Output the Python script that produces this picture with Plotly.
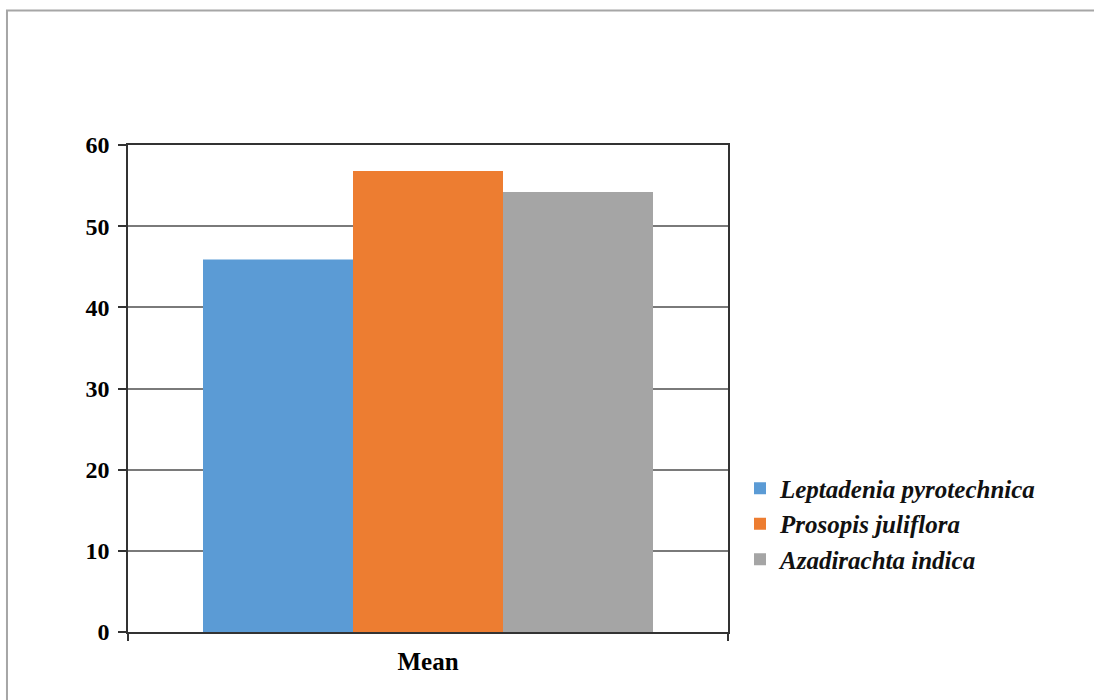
import plotly.graph_objects as go

# Mean values per species
categories = ["Mean"]
species = ["Leptadenia pyrotechnica", "Prosopis juliflora", "Azadirachta indica"]
leptadenia = [45.9]
prosopis = [56.8]
azadirachta = [54.2]
colors = ["#5b9bd5", "#ed7d31", "#a5a5a5"]
y_ticks = [0, 10, 20, 30, 40, 50, 60]

serif = "Liberation Serif"

fig = go.Figure()
for name, vals, col in zip(species, [leptadenia, prosopis, azadirachta], colors):
    fig.add_trace(go.Bar(
        x=categories, y=vals, name="<b><i>%s</i></b>" % name,
        marker=dict(color=col, line=dict(width=0)),
    ))

# outer frame around the chart
fig.add_shape(type="rect", xref="paper", yref="paper",
              x0=-0.2017, x1=2.0, y0=-1.0, y1=1.2762,
              line=dict(color="#a6a6a6", width=2), fillcolor="rgba(0,0,0,0)",
              layer="below")

fig.update_layout(
    width=1094, height=700,
    margin=dict(l=128, r=366, t=145, b=68),
    paper_bgcolor="white", plot_bgcolor="white",
    barmode="group", bargap=0.25, bargroupgap=0,
    font=dict(family=serif, color="#000000"),
    showlegend=True,
    legend=dict(x=1.02, xanchor="left", y=0.222, yanchor="middle",
                font=dict(size=25, family=serif, color="#111111"),
                bgcolor="rgba(0,0,0,0)", tracegroupgap=0),
    xaxis=dict(
        tickvals=categories, ticktext=["<b>Mean</b>"],
        tickson="boundaries", ticks="outside", ticklen=7, tickwidth=1.5,
        tickcolor="#333333",
        showline=True, linecolor="#333333", linewidth=1.5, mirror=True,
        showgrid=False, tickfont=dict(size=25, family=serif),
        ticklabelstandoff=6, fixedrange=True,
    ),
    yaxis=dict(
        range=[0, 60], tickvals=y_ticks,
        ticktext=["<b>%d</b>" % v for v in y_ticks],
        ticks="outside", ticklen=8, tickwidth=1.5, tickcolor="#333333",
        showline=True, linecolor="#333333", linewidth=1.5, mirror=True,
        showgrid=True, gridcolor="#7a7a7a", gridwidth=1.5,
        zeroline=False, tickfont=dict(size=24, family=serif),
        ticklabelstandoff=4,
    ),
)

fig.write_html("out.html")
